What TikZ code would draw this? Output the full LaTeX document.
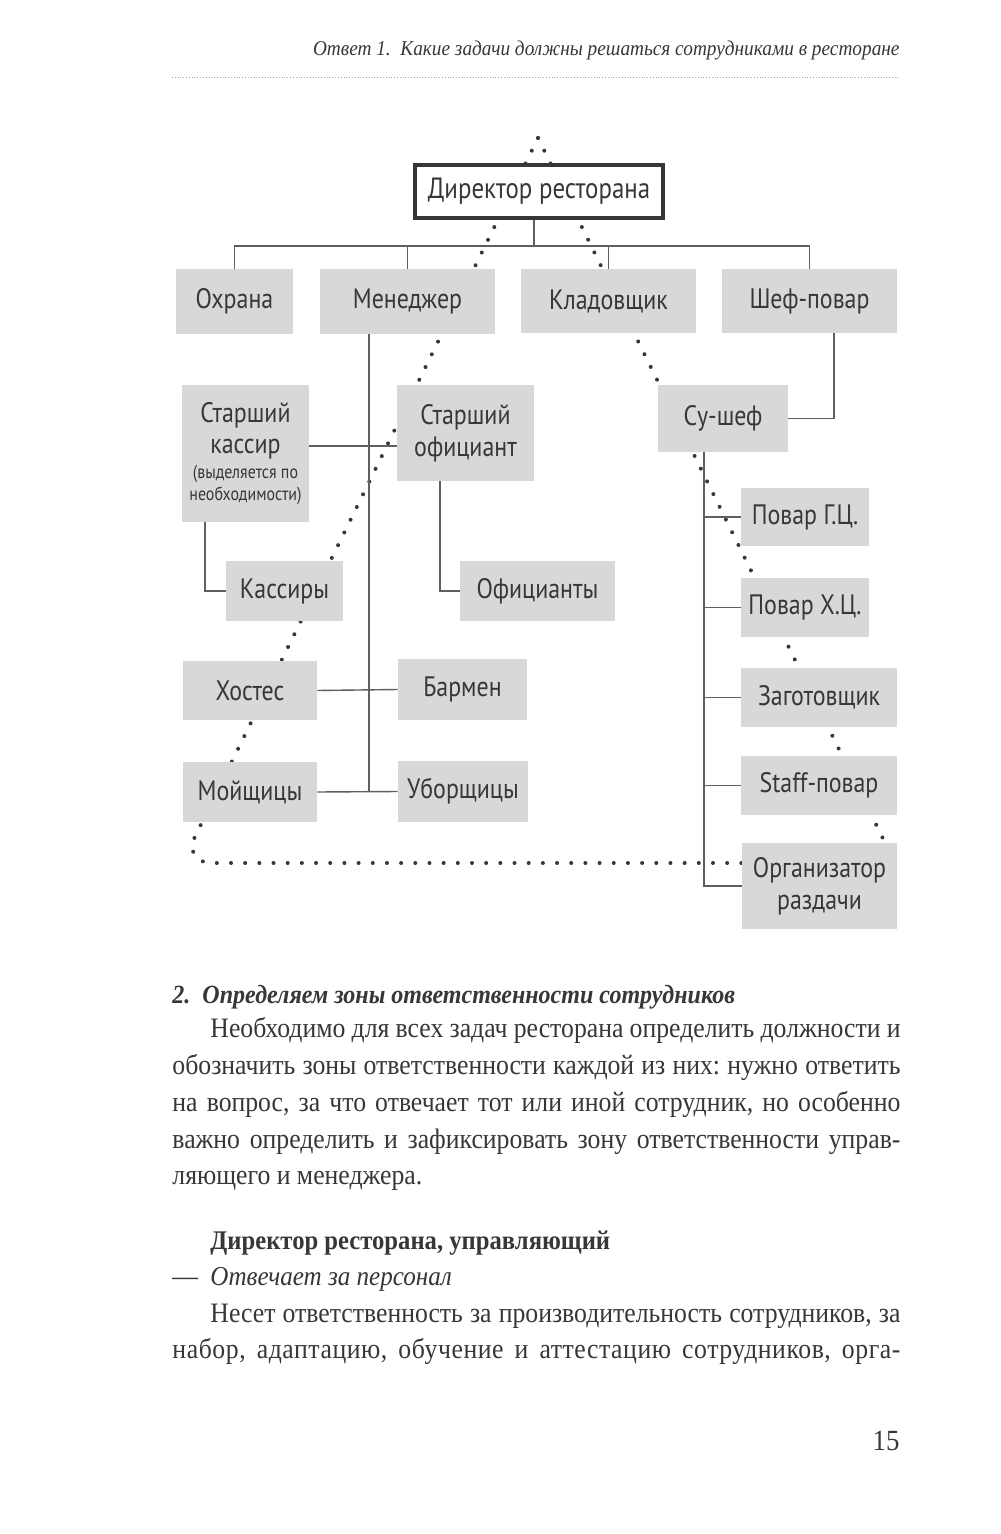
\documentclass[tikz,border=0pt]{standalone}
\usepackage{fontspec}
\setmainfont{Liberation Serif}
\newfontfamily\bodyfont[FakeStretch=0.915]{Liberation Serif}
\newfontfamily\hand[FakeStretch=0.85]{PT Sans}
\usetikzlibrary{positioning,calc}
\definecolor{ink}{RGB}{55,55,55}
\definecolor{boxgray}{RGB}{216,216,216}
\definecolor{wire}{RGB}{95,95,95}
\newcommand{\smallhand}{\hand\fontsize{8}{9}\selectfont}
\frenchspacing

\begin{document}
\begin{tikzpicture}[x=0.015cm, y=-0.015cm,
    role/.style={fill=boxgray, inner sep=0pt, align=center, text=ink, font=\hand\fontsize{12}{13.5}\selectfont},
    boss/.style={draw=ink, line width=1.8pt, fill=white, inner sep=0pt, text=ink, font=\hand\fontsize{12.5}{14}\selectfont},
    link/.style={draw=wire, line width=0.6pt},
    trail/.style={draw=ink, line width=1.7pt, line cap=round, dash pattern=on 0pt off 6.05pt},
    txt/.style={inner sep=0pt, text=ink, font=\bodyfont\fontsize{12}{15}\selectfont},
    rule/.style={draw=gray!70, line width=0.4pt, dash pattern=on 0.4pt off 0.8pt}
]
\useasboundingbox[fill=white] (0,0) rectangle (1000,1534);

% running head
\node[txt, anchor=base east, font=\bodyfont\itshape\fontsize{9}{11}\selectfont] (hdr) at (900,56) {Ответ 1.\ \ Какие задачи должны решаться сотрудниками в ресторане};
\coordinate (rl) at (172,77);
\coordinate (rr) at (900,77);
\draw[rule] (rl) -- (rr);

% dotted triangle behind the chart
\coordinate (apex) at (538,138);
\coordinate (lc) at (182,863);
\coordinate (rc) at (895,863);
\draw[trail] (apex) -- (rc);
\draw[trail] (apex) [rounded corners=0.45cm] -- (lc) -- (rc);

% chart
\node[boss, minimum width=3.72cm, minimum height=0.795cm] (dir) at (539,191.5) {Директор ресторана};

\node[role, minimum width=1.755cm, minimum height=0.975cm] (ohr) at (234.5,301.5) {Охрана};
\node[role, minimum width=2.625cm, minimum height=0.975cm] (mgr) at (407.5,301.5) {Менеджер};
\node[role, minimum width=2.625cm, minimum height=0.96cm] (store) at (608.5,301) {Кладовщик};
\node[role, minimum width=2.625cm, minimum height=0.96cm] (chef) at (809.5,301) {Шеф-повар};

\node[role, minimum width=1.905cm, minimum height=2.055cm] (scash) at (245.5,453.5) {Старший\\кассир\\[-3pt]{\smallhand (выделяется по}\\[-4pt]{\smallhand необходимости)}};
\node[role, minimum width=2.055cm, minimum height=1.44cm] (swait) at (465.5,433) {Старший\\официант};
\node[role, minimum width=1.95cm, minimum height=1.005cm] (sous) at (723,418.5) {Су-шеф};

\node[role, minimum width=1.755cm, minimum height=0.9cm] (cash) at (284.5,591) {Кассиры};
\node[role, minimum width=2.325cm, minimum height=0.9cm] (wait) at (537.5,591) {Официанты};
\node[role, minimum width=2.01cm, minimum height=0.885cm] (host) at (250,690.5) {Хостес};
\node[role, minimum width=1.935cm, minimum height=0.915cm] (bar) at (462.5,689.5) {Бармен};
\node[role, minimum width=2.01cm, minimum height=0.9cm] (wash) at (250,792) {Мойщицы};
\node[role, minimum width=1.95cm, minimum height=0.915cm] (clean) at (463,791.5) {Уборщицы};

\node[role, minimum width=1.92cm, minimum height=0.87cm] (hot) at (805,517) {Повар Г.Ц.};
\node[role, minimum width=1.92cm, minimum height=0.885cm] (cold) at (805,607.5) {Повар Х.Ц.};
\node[role, minimum width=2.34cm, minimum height=0.885cm] (prep) at (819,697.5) {Заготовщик};
\node[role, minimum width=2.34cm, minimum height=0.885cm] (staff) at (819,785.5) {Staff-повар};
\node[role, minimum width=2.325cm, minimum height=1.29cm] (org) at (819.5,886) {Организатор\\раздачи};

% connectors
\coordinate (bus) at (534,246);
\draw[link] (dir.south -| bus) -- (bus);
\draw[link] (ohr.north) -- (ohr.north |- bus) -| (chef.north);
\foreach \n in {mgr,store}
  \draw[link] (\n.north) -- (\n.north |- bus);

\coordinate (mk) at (369,334);
\coordinate (row) at (369,446);
\draw[link] (mk) -- (mk |- clean.west);
\draw[link] (scash.east |- row) -- (swait.west |- row);
\draw[link] (host.east) -- (bar.west);
\draw[link] (wash.east) -- (clean.west);
\draw[link] ([xshift=-0.61cm]scash.south) |- (cash.west);
\draw[link] ([xshift=-0.38cm]swait.south) |- (wait.west);
\draw[link] ([xshift=0.37cm]chef.south) |- (sous.east);

\coordinate (sk) at ([xshift=-0.285cm]sous.south);
\draw[link] (sk) |- (org.west);
\foreach \n in {hot,cold,prep,staff}
  \draw[link] (sk |- \n.west) -- (\n.west);

% text below
\node[txt, anchor=base west, font=\bodyfont\bfseries\itshape\fontsize{11.2}{14}\selectfont] (h2) at (172,1003) {2.\ \ Определяем зоны ответственности сотрудников};
\node[txt, anchor=base west] (p1) at (210,1037) {\makebox[294.5pt][s]{Необходимо для всех задач ресторана определить должности и}};
\node[txt, anchor=base west] (p2) at (172,1074) {\makebox[310.7pt][s]{обозначить зоны ответственности каждой из них: нужно ответить}};
\node[txt, anchor=base west] (p3) at (172,1111) {\makebox[310.7pt][s]{на вопрос, за что отвечает тот или иной сотрудник, но особенно}};
\node[txt, anchor=base west] (p4) at (172,1148) {\makebox[310.7pt][s]{важно определить и зафиксировать зону ответственности управ-}};
\node[txt, anchor=base west] (p5) at (172,1184) {ляющего и менеджера.};

\node[txt, anchor=base west, font=\bodyfont\bfseries\fontsize{11.5}{14}\selectfont] (h3) at (210,1249) {Директор ресторана, управляющий};
\node[txt, anchor=base west] (dash) at (172,1285) {—};
\node[txt, anchor=base west, font=\bodyfont\itshape\fontsize{11.7}{14}\selectfont] (q1) at (210,1285) {Отвечает за персонал};
\node[txt, anchor=base west] (p6) at (210,1322) {\makebox[294.5pt][s]{Несет ответственность за производительность сотрудников, за}};
\node[txt, anchor=base west] (p7) at (172,1358) {\addfontfeature{LetterSpace=2}\makebox[310.7pt][s]{набор, адаптацию, обучение и аттестацию сотрудников, орга-}};

\node[txt, anchor=base east, font=\bodyfont\fontsize{12.5}{15}\selectfont] (pg) at (900,1450) {15};
\end{tikzpicture}
\end{document}
